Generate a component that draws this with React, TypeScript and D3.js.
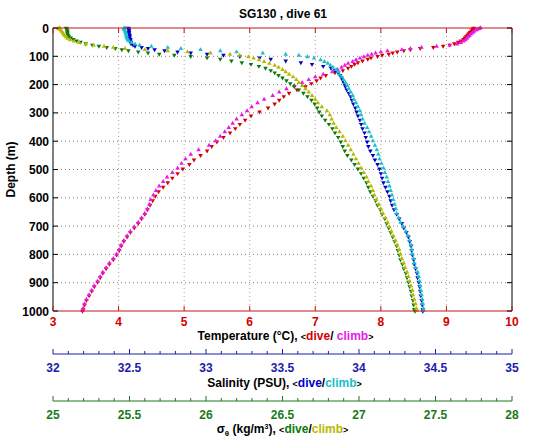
import React from 'react';
import * as d3 from 'd3';

// Depths (m) of dive and climb samples
const diveDepth = [
  0, 3, 6, 10, 15, 20, 25, 30, 35, 40,
  45, 50, 55, 60, 64, 68, 72, 76, 80, 84,
  88, 92, 96, 100, 105, 110, 116, 122, 128, 135,
  142, 150, 158, 167, 176, 186, 196, 207, 218, 230,
  242, 255, 268, 282, 296, 310, 325, 340, 355, 370,
  386, 402, 418, 434, 450, 466, 482, 498, 514, 530,
  546, 562, 578, 594, 610, 626, 642, 658, 674, 690,
  706, 722, 738, 754, 770, 786, 802, 818, 834, 850,
  866, 882, 898, 914, 930, 946, 962, 978, 994, 1000,
];
const climbDepth = [
  0, 2, 5, 8, 12, 17, 22, 27, 32, 37,
  42, 47, 52, 57, 61, 65, 69, 73, 77, 81,
  85, 89, 93, 97, 102, 107, 113, 119, 125, 132,
  139, 147, 155, 164, 173, 183, 193, 204, 215, 227,
  239, 252, 265, 279, 293, 307, 322, 337, 352, 367,
  383, 399, 415, 431, 447, 463, 479, 495, 511, 527,
  543, 559, 575, 591, 607, 623, 639, 655, 671, 687,
  703, 719, 735, 751, 767, 783, 799, 815, 831, 847,
  863, 879, 895, 911, 927, 943, 959, 975, 991, 998,
];

// Temperature (°C)
const tempDive = [
  9.42, 9.40, 9.40, 9.38, 9.36, 9.34, 9.32, 9.30, 9.28, 9.26,
  9.22, 9.18, 9.12, 9.05, 8.95, 8.80, 8.60, 8.45, 8.35, 8.25,
  8.18, 8.12, 8.02, 7.95, 7.85, 7.80, 7.72, 7.65, 7.60, 7.55,
  7.50, 7.42, 7.30, 7.16, 7.08, 7.02, 6.94, 6.85, 6.72, 6.60,
  6.52, 6.45, 6.38, 6.28, 6.15, 6.02, 5.93, 5.85, 5.78, 5.70,
  5.60, 5.50, 5.42, 5.35, 5.25, 5.15, 5.08, 4.98, 4.90, 4.82,
  4.75, 4.68, 4.61, 4.56, 4.52, 4.48, 4.44, 4.40, 4.35, 4.30,
  4.24, 4.18, 4.13, 4.08, 4.04, 4.01, 3.97, 3.92, 3.86, 3.81,
  3.76, 3.72, 3.68, 3.63, 3.59, 3.55, 3.51, 3.48, 3.46, 3.45,
];
const tempClimb = [
  9.52, 9.50, 9.47, 9.45, 9.42, 9.40, 9.37, 9.35, 9.33, 9.31,
  9.29, 9.26, 9.22, 9.16, 9.05, 8.85, 8.62, 8.45, 8.32, 8.10,
  8.00, 7.92, 7.86, 7.80, 7.74, 7.68, 7.62, 7.57, 7.50, 7.45,
  7.40, 7.34, 7.26, 7.12, 7.00, 6.90, 6.80, 6.68, 6.56, 6.45,
  6.35, 6.22, 6.12, 6.03, 5.96, 5.88, 5.80, 5.74, 5.68, 5.62,
  5.55, 5.48, 5.38, 5.22, 5.10, 5.02, 4.96, 4.90, 4.82, 4.74,
  4.68, 4.62, 4.57, 4.53, 4.49, 4.47, 4.44, 4.40, 4.35, 4.30,
  4.24, 4.18, 4.13, 4.08, 4.04, 4.01, 3.97, 3.92, 3.86, 3.81,
  3.76, 3.72, 3.68, 3.63, 3.59, 3.55, 3.51, 3.48, 3.46, 3.45,
];

// Salinity (PSU)
const salDive = [
  32.493, 32.493, 32.497, 32.497, 32.497, 32.497, 32.501, 32.501, 32.501, 32.506,
  32.506, 32.510, 32.510, 32.523, 32.536, 32.579, 32.621, 32.664, 32.729, 32.814,
  32.900, 33.007, 33.114, 33.221, 33.350, 33.423, 33.521, 33.620, 33.693, 33.766,
  33.817, 33.843, 33.864, 33.877, 33.886, 33.894, 33.903, 33.911, 33.920, 33.933,
  33.946, 33.954, 33.963, 33.976, 33.984, 33.993, 34.006, 34.014, 34.023, 34.036,
  34.044, 34.053, 34.061, 34.074, 34.091, 34.104, 34.121, 34.134, 34.143, 34.151,
  34.160, 34.173, 34.186, 34.199, 34.207, 34.216, 34.229, 34.246, 34.263, 34.280,
  34.293, 34.310, 34.323, 34.331, 34.340, 34.344, 34.349, 34.357, 34.361, 34.370,
  34.379, 34.383, 34.391, 34.396, 34.400, 34.404, 34.409, 34.413, 34.417, 34.417,
];
const salClimb = [
  32.471, 32.463, 32.463, 32.471, 32.471, 32.476, 32.476, 32.480, 32.480, 32.484,
  32.489, 32.497, 32.514, 32.536, 32.566, 32.643, 32.750, 32.836, 32.964, 33.093,
  33.200, 33.371, 33.521, 33.607, 33.663, 33.706, 33.749, 33.774, 33.796, 33.813,
  33.830, 33.851, 33.864, 33.873, 33.886, 33.899, 33.911, 33.924, 33.933, 33.946,
  33.959, 33.967, 33.980, 33.993, 34.006, 34.014, 34.023, 34.036, 34.053, 34.066,
  34.079, 34.091, 34.104, 34.117, 34.126, 34.134, 34.147, 34.160, 34.169, 34.181,
  34.190, 34.199, 34.207, 34.216, 34.224, 34.233, 34.241, 34.246, 34.259, 34.271,
  34.289, 34.306, 34.319, 34.331, 34.340, 34.344, 34.349, 34.357, 34.361, 34.370,
  34.383, 34.391, 34.396, 34.400, 34.404, 34.409, 34.413, 34.417, 34.421, 34.421,
];

// Potential density anomaly sigma-theta (kg/m3)
const sigDive = [
  25.086, 25.090, 25.090, 25.094, 25.094, 25.094, 25.099, 25.103, 25.116, 25.133,
  25.154, 25.180, 25.214, 25.257, 25.300, 25.351, 25.407, 25.450, 25.493, 25.557,
  25.621, 25.694, 25.793, 25.900, 26.007, 26.093, 26.166, 26.234, 26.294, 26.346,
  26.389, 26.423, 26.449, 26.474, 26.500, 26.526, 26.551, 26.577, 26.607, 26.637,
  26.663, 26.689, 26.710, 26.727, 26.740, 26.757, 26.779, 26.804, 26.826, 26.843,
  26.864, 26.881, 26.894, 26.907, 26.924, 26.950, 26.971, 26.993, 27.014, 27.031,
  27.049, 27.061, 27.074, 27.091, 27.109, 27.121, 27.139, 27.151, 27.169, 27.181,
  27.194, 27.207, 27.220, 27.233, 27.246, 27.254, 27.263, 27.271, 27.284, 27.293,
  27.306, 27.314, 27.323, 27.331, 27.340, 27.344, 27.353, 27.357, 27.361, 27.366,
];
const sigClimb = [
  25.043, 25.034, 25.043, 25.051, 25.056, 25.064, 25.069, 25.077, 25.086, 25.094,
  25.111, 25.137, 25.171, 25.214, 25.266, 25.334, 25.394, 25.471, 25.600, 25.750,
  25.879, 26.029, 26.157, 26.221, 26.277, 26.311, 26.346, 26.380, 26.414, 26.449,
  26.474, 26.500, 26.521, 26.543, 26.569, 26.590, 26.607, 26.629, 26.650, 26.671,
  26.693, 26.714, 26.731, 26.757, 26.791, 26.809, 26.821, 26.834, 26.851, 26.873,
  26.894, 26.911, 26.929, 26.946, 26.963, 26.980, 26.997, 27.014, 27.031, 27.049,
  27.061, 27.079, 27.091, 27.100, 27.113, 27.130, 27.143, 27.156, 27.173, 27.186,
  27.199, 27.211, 27.224, 27.237, 27.250, 27.263, 27.271, 27.280, 27.293, 27.301,
  27.314, 27.323, 27.331, 27.340, 27.349, 27.353, 27.361, 27.370, 27.374, 27.379,
];

// Tick labels
const depthTicks = [0, 100, 200, 300, 400, 500, 600, 700, 800, 900, 1000];
const tempTicks = [3, 4, 5, 6, 7, 8, 9, 10];
const salTicks = [32, 32.5, 33, 33.5, 34, 34.5, 35];
const sigTicks = [25, 25.5, 26, 26.5, 27, 27.5, 28];

const W = 543, H = 442;
const L = 53, R = 512, TOP = 28, BOT = 311;
const FONT = '"Liberation Sans", Arial, Helvetica, sans-serif';

const C = {
  red: '#d40000', magenta: '#e619e6', blue: '#0000c8', cyan: '#18c0c8',
  green: '#0a7a0a', yellow: '#b8b800',
  tempText: '#d40000', salText: '#1c1ca8', sigText: '#1a7a1a', frameRed: '#c01818',
};

export default function App() {
  const y = d3.scaleLinear().domain([0, 1000]).range([TOP, BOT]);
  const xT = d3.scaleLinear().domain([3, 10]).range([L, R]);
  const xS = d3.scaleLinear().domain([32, 35]).range([L, R]);
  const xD = d3.scaleLinear().domain([25, 28]).range([L, R]);
  const tri = d3.symbol().type(d3.symbolTriangle).size(9)() as string;

  const series = [
    { vals: tempDive, depths: diveDepth, x: xT, color: C.red, down: true },
    { vals: tempClimb, depths: climbDepth, x: xT, color: C.magenta, down: false },
    { vals: salDive, depths: diveDepth, x: xS, color: C.blue, down: true },
    { vals: salClimb, depths: climbDepth, x: xS, color: C.cyan, down: false },
    { vals: sigDive, depths: diveDepth, x: xD, color: C.green, down: true },
    { vals: sigClimb, depths: climbDepth, x: xD, color: C.yellow, down: false },
  ];

  const salMinor = d3.range(0, 31).map((i) => 32 + i * 0.1);
  const sigMinor = d3.range(0, 31).map((i) => 25 + i * 0.1);
  const mid = (L + R) / 2;

  const secondaryAxis = (
    scale: d3.ScaleLinear<number, number>, ticks: number[], minor: number[],
    color: string, yLine: number, key: string,
  ) => (
    <g key={key}>
      <line x1={L} x2={R} y1={yLine} y2={yLine} stroke={color} strokeWidth={1} />
      {minor.map((v, i) => (
        <line key={i} x1={scale(v)} x2={scale(v)} y1={yLine} y2={yLine - (i % 5 === 0 ? 5 : 3)} stroke={color} strokeWidth={1} />
      ))}
      {ticks.map((v) => (
        <text key={v} x={scale(v)} y={yLine + 18} textAnchor="middle" fill={color} fontSize={12} fontWeight="bold">{String(v)}</text>
      ))}
    </g>
  );

  return (
    <div style={{ position: 'fixed', left: 0, top: 0, width: W, height: H, background: '#fff' }}>
      <svg width={W} height={H} fontFamily={FONT}>
        <rect x={0} y={0} width={W} height={H} fill="#fff" />
        {/* grid */}
        {depthTicks.slice(1, -1).map((d) => (
          <line key={'hg' + d} x1={L} x2={R} y1={y(d)} y2={y(d)} stroke="#808080" strokeWidth={1} strokeDasharray="1,3" />
        ))}
        {tempTicks.slice(1, -1).map((t) => (
          <line key={'vg' + t} x1={xT(t)} x2={xT(t)} y1={TOP} y2={BOT} stroke="#c09a9a" strokeWidth={1} strokeDasharray="1,3" />
        ))}
        {/* data */}
        {series.map((s, si) => (
          <g key={si} fill={s.color}>
            {s.vals.map((v, i) => (
              <path key={i} d={tri} transform={`translate(${s.x(v)},${y(s.depths[i])})${s.down ? ' rotate(180)' : ''}`} />
            ))}
          </g>
        ))}
        {/* frame */}
        <line x1={L} x2={L} y1={TOP} y2={BOT} stroke="#000" />
        <line x1={R} x2={R} y1={TOP} y2={BOT} stroke="#000" />
        <line x1={L} x2={R} y1={TOP} y2={TOP} stroke={C.frameRed} />
        <line x1={L} x2={R} y1={BOT} y2={BOT} stroke={C.frameRed} />
        {/* depth ticks */}
        {depthTicks.map((d) => (
          <g key={'yt' + d}>
            <line x1={L} x2={L + 5} y1={y(d)} y2={y(d)} stroke="#000" />
            <line x1={R} x2={R - 5} y1={y(d)} y2={y(d)} stroke="#000" />
            <text x={L - 4} y={y(d) + 4.5} textAnchor="end" fontSize={12} fontWeight="bold" fill="#000">{d}</text>
          </g>
        ))}
        {/* temperature ticks */}
        {tempTicks.map((t) => (
          <g key={'xt' + t}>
            <line x1={xT(t)} x2={xT(t)} y1={BOT} y2={BOT - 5} stroke={C.frameRed} />
            <line x1={xT(t)} x2={xT(t)} y1={TOP} y2={TOP + 5} stroke={C.frameRed} />
            <text x={xT(t)} y={BOT + 15} textAnchor="middle" fill={C.tempText} fontSize={12} fontWeight="bold">{t}</text>
          </g>
        ))}
        {/* title */}
        <text x={283} y={18} textAnchor="middle" fontSize={12} fontWeight="bold" fill="#000">SG130 , dive 61</text>
        {/* y label */}
        <text transform={`translate(15,${(TOP + BOT) / 2}) rotate(-90)`} textAnchor="middle" fontSize={12} fontWeight="bold" fill="#000">Depth (m)</text>
        {/* temperature title */}
        <text x={mid + 3} y={340} textAnchor="middle" fontSize={12} fontWeight="bold" fill="#000">
          Temperature (°C), <tspan fontSize={9}>&lt;</tspan><tspan fill={C.red}>dive</tspan>/ <tspan fill={C.magenta}>climb</tspan><tspan fontSize={9}>&gt;</tspan>
        </text>
        {secondaryAxis(xS, salTicks, salMinor, C.salText, 354, 'sal')}
        <text x={mid + 2} y={387} textAnchor="middle" fontSize={12} fontWeight="bold" fill="#000">
          Salinity (PSU), <tspan fontSize={9}>&lt;</tspan><tspan fill={C.blue}>dive</tspan>/<tspan fill={C.cyan}>climb</tspan><tspan fontSize={9}>&gt;</tspan>
        </text>
        {secondaryAxis(xD, sigTicks, sigMinor, C.sigText, 401, 'sig')}
        <text x={mid} y={433} textAnchor="middle" fontSize={12} fontWeight="bold" fill="#000">
          σ<tspan fontSize={8} dy={3}>θ</tspan><tspan dy={-3}> (kg/m</tspan><tspan fontSize={7} dy={-4}>3</tspan><tspan dy={4}>), </tspan><tspan fontSize={9}>&lt;</tspan><tspan fill={C.green}>dive</tspan>/<tspan fill={C.yellow}>climb</tspan><tspan fontSize={9}>&gt;</tspan>
        </text>
      </svg>
    </div>
  );
}
